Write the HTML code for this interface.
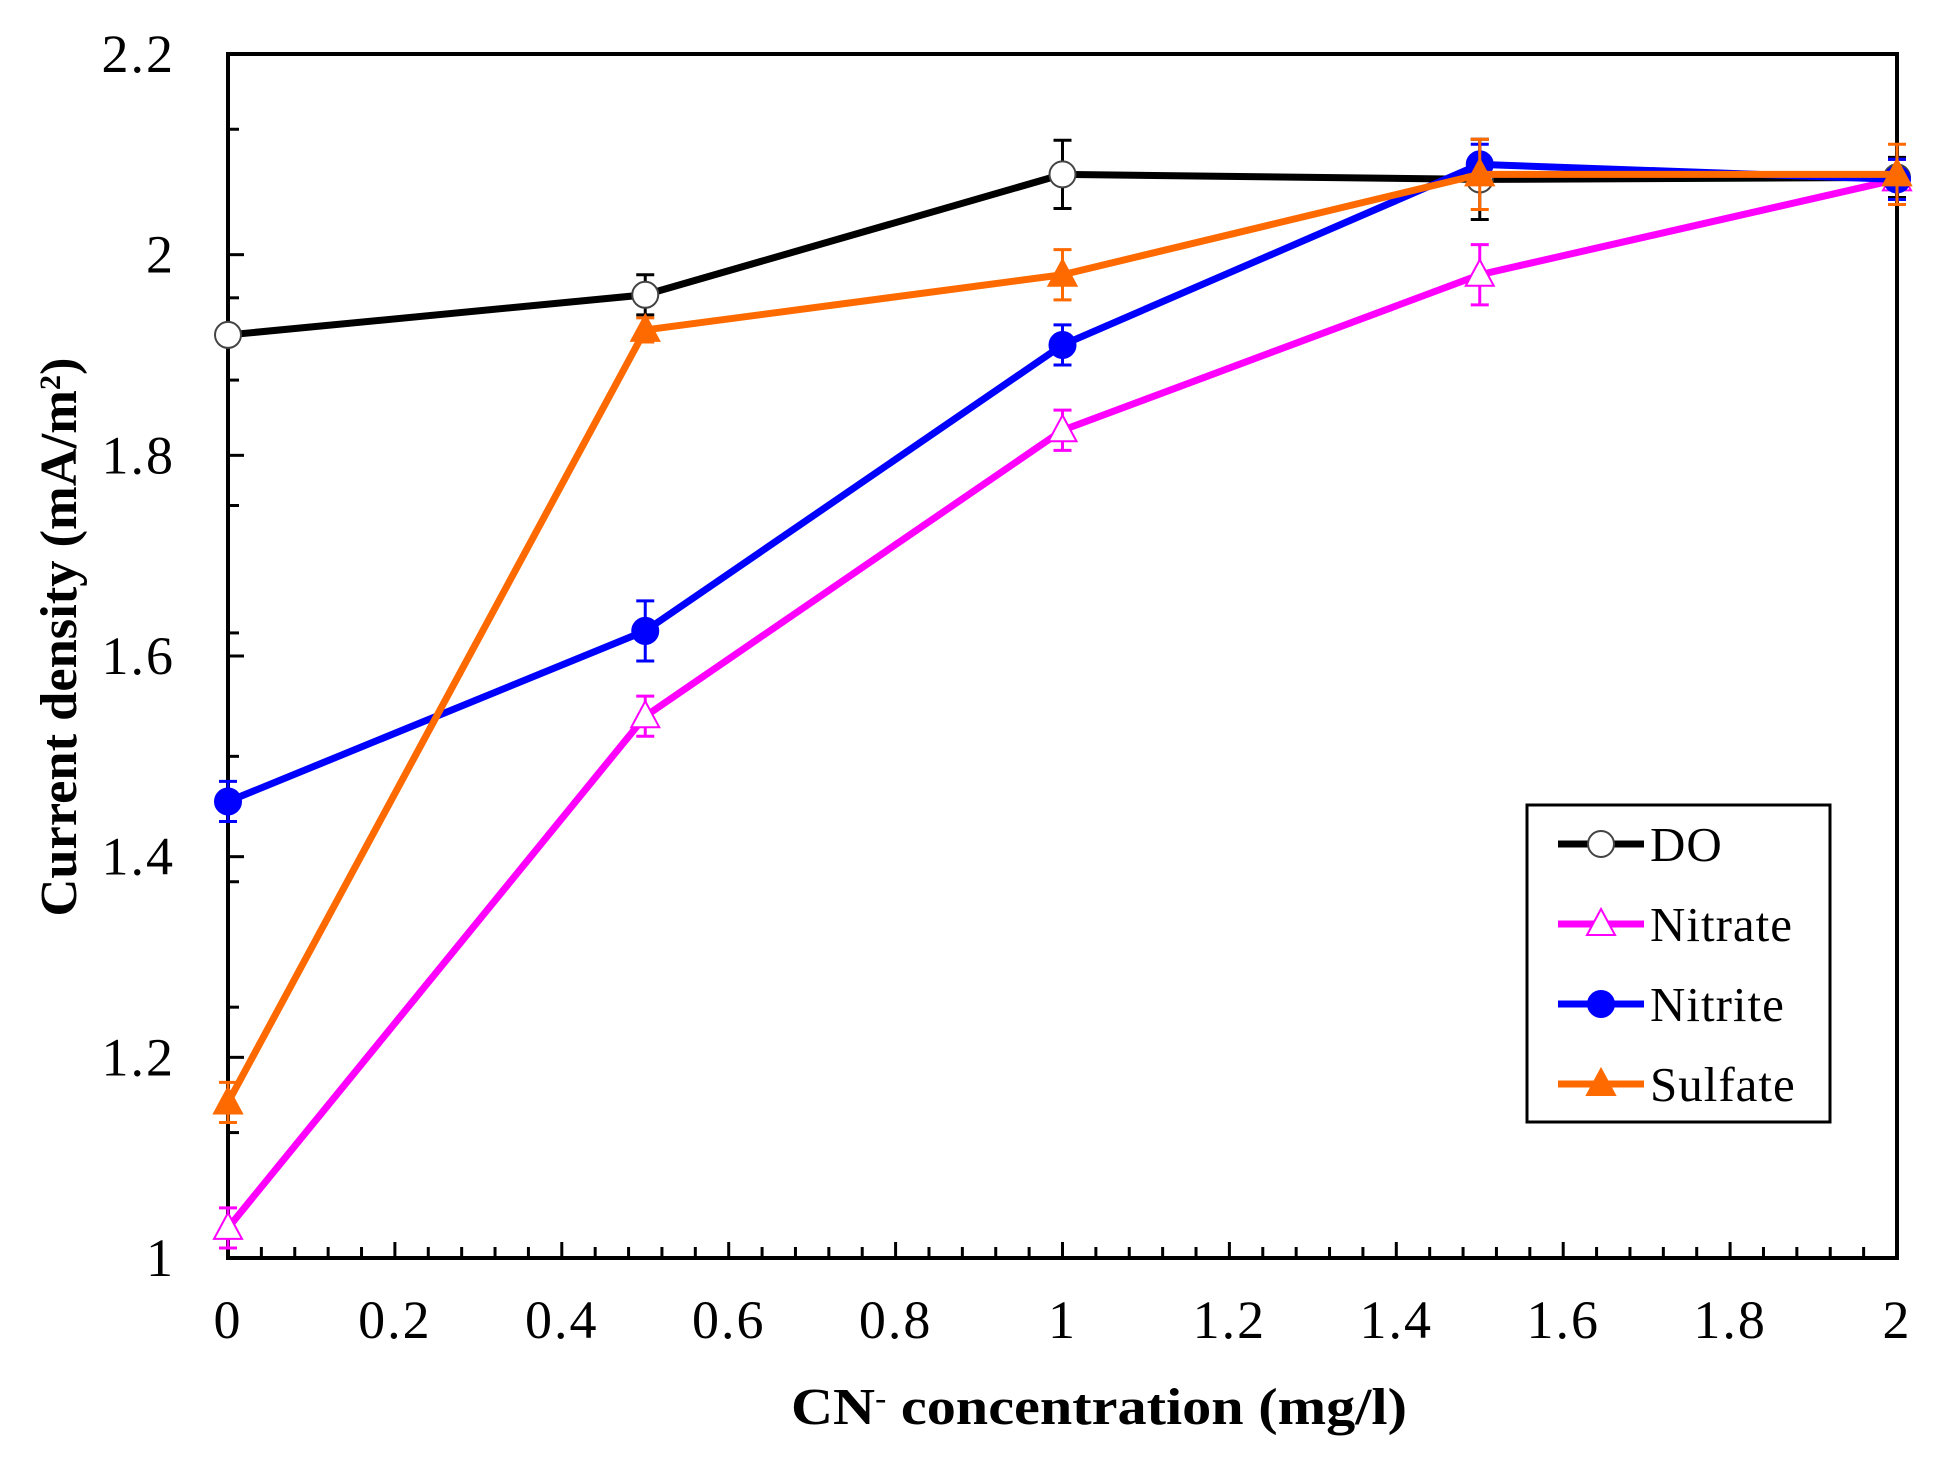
<!DOCTYPE html>
<html><head><meta charset="utf-8"><style>
html,body{margin:0;padding:0;background:#fff;}
svg{display:block;font-family:"Liberation Serif",serif;}
</style></head><body>
<svg id="chart" width="1937" height="1468" viewBox="0 0 1937 1468">
<g id="axes"></g>
<g id="series"></g>
<g id="legend"></g>
<text x="1099" y="1424" text-anchor="middle" font-weight="bold" font-size="52" textLength="616" lengthAdjust="spacingAndGlyphs">CN<tspan baseline-shift="super" font-size="30">-</tspan> concentration (mg/l)</text>
<text transform="translate(76,637) rotate(-90)" text-anchor="middle" font-weight="bold" font-size="52" textLength="559" lengthAdjust="spacingAndGlyphs">Current density (mA/m<tspan baseline-shift="super" font-size="30">2</tspan>)</text>
</svg>
<script>
const xCats = [0, 0.5, 1, 1.5, 2];
const doVals = [1.92, 1.96, 2.08, 2.075, 2.077];
const doErr = [0.0, 0.02, 0.034, 0.04, 0.02];
const nitrateVals = [1.03, 1.54, 1.825, 1.98, 2.075];
const nitrateErr = [0.02, 0.02, 0.02, 0.03, 0.02];
const nitriteVals = [1.455, 1.625, 1.91, 2.09, 2.075];
const nitriteErr = [0.02, 0.03, 0.02, 0.02, 0.02];
const sulfateVals = [1.155, 1.925, 1.98, 2.08, 2.08];
const sulfateErr = [0.02, 0.012, 0.025, 0.035, 0.03];
const xTickLabels = ["0","0.2","0.4","0.6","0.8","1","1.2","1.4","1.6","1.8","2"];
const yTickLabels = ["1","1.2","1.4","1.6","1.8","2","2.2"];
const yMinorTicks = [1.125,1.25,1.375,1.5,1.623,1.75,1.875,1.957,2.125];

const L=228,R=1897,T=54,B=1258;
const xS=v=>L+(v-0)/(2-0)*(R-L);
const yS=v=>B-(v-1)/(2.2-1)*(B-T);
const NS="http://www.w3.org/2000/svg";
function mk(tag,attrs,parent){const e=document.createElementNS(NS,tag);for(const k in attrs)e.setAttribute(k,attrs[k]);parent.appendChild(e);return e;}
const axes=document.getElementById('axes');
let fr=mk('rect',{x:L,y:T,width:R-L,height:B-T,fill:'none',stroke:'#000','stroke-width':4},axes);


for(let i=0;i<=50;i++){
  const v=i*0.04;const x=xS(v);const major=(i%5===0);
  let t=mk('line',{x1:x,x2:x,y1:B,y2:B-(major?16:11),stroke:'#000','stroke-width':3},axes);
  
  
}
xTickLabels.forEach(s=>{
  const v=parseFloat(s);
  let t=mk('text',{x:xS(v),y:1338,'text-anchor':'middle','font-size':54,'letter-spacing':2},axes);
  t.textContent=s;
  
  
});
yTickLabels.forEach(s=>{
  const v=parseFloat(s);const y=yS(v);
  let tk=mk('line',{x1:L,x2:L+16,y1:y,y2:y,stroke:'#000','stroke-width':3},axes);
  
  
  let t=mk('text',{x:175,y:y+18,'text-anchor':'end','font-size':54,'letter-spacing':2},axes);
  t.textContent=s;
  
  
});
yMinorTicks.forEach(v=>{
  const y=yS(v);
  let tk=mk('line',{x1:L,x2:L+11,y1:y,y2:y,stroke:'#000','stroke-width':3},axes);
  
  
});
const seriesG=document.getElementById('series');
const series=[
 {name:'DO',vals:doVals,err:doErr,color:'#000',marker:'circle',fill:'#fff'},
 {name:'Nitrate',vals:nitrateVals,err:nitrateErr,color:'#ff00ff',marker:'triangle',fill:'#fff'},
 {name:'Nitrite',vals:nitriteVals,err:nitriteErr,color:'#0000ff',marker:'circle',fill:'#0000ff'},
 {name:'Sulfate',vals:sulfateVals,err:sulfateErr,color:'#ff6a00',marker:'triangle',fill:'#ff6a00'}
];
function marker(g,type,cx,cy,color,fill,nm){
  let m;
  if(type==='circle'){
    m=mk('circle',{cx:cx,cy:cy,r:13,fill:fill,stroke:fill==='#fff'?'#444':color,'stroke-width':2},g);
  }else{
    m=mk('polygon',{points:`${cx},${cy-15} ${cx-14},${cy+11} ${cx+14},${cy+11}`,fill:fill,stroke:color,'stroke-width':2},g);
  }
  
  
}
series.forEach(s=>{
  const g=mk('g',{},seriesG);
  
  
  const pts=xCats.map((x,i)=>xS(x)+','+yS(s.vals[i])).join(' ');
  let pl=mk('polyline',{points:pts,fill:'none',stroke:s.color,'stroke-width':7,'stroke-linejoin':'round'},g);
  
  
  xCats.forEach((x,i)=>{
    if(s.err[i]>0){
      const cx=xS(x),y1=yS(s.vals[i]+s.err[i]),y2=yS(s.vals[i]-s.err[i]);
      let eb=mk('path',{d:`M${cx},${y1}V${y2}M${cx-9},${y1}H${cx+9}M${cx-9},${y2}H${cx+9}`,stroke:s.color,'stroke-width':3,fill:'none'},g);
      
      
    }
  });
  xCats.forEach((x,i)=>{marker(g,s.marker,xS(x),yS(s.vals[i]),s.color,s.fill,s.name.toLowerCase()+'-point');});
});
const lg=document.getElementById('legend');
let box=mk('rect',{x:1527,y:805,width:303,height:317,fill:'#fff',stroke:'#000','stroke-width':3},lg);


const ly=[844,924,1004,1084];
series.forEach((s,i)=>{
  const g=mk('g',{},lg);
  
  
  let ln=mk('line',{x1:1558,x2:1644,y1:ly[i],y2:ly[i],stroke:s.color,'stroke-width':7},g);
  
  
  marker(g,s.marker,1601,ly[i],s.color,s.fill,'legend-marker');
  let t=mk('text',{x:1650,y:ly[i]+17,'font-size':49,'letter-spacing':1},g);
  t.textContent=s.name;
  
  
});
</script>
</body></html>
